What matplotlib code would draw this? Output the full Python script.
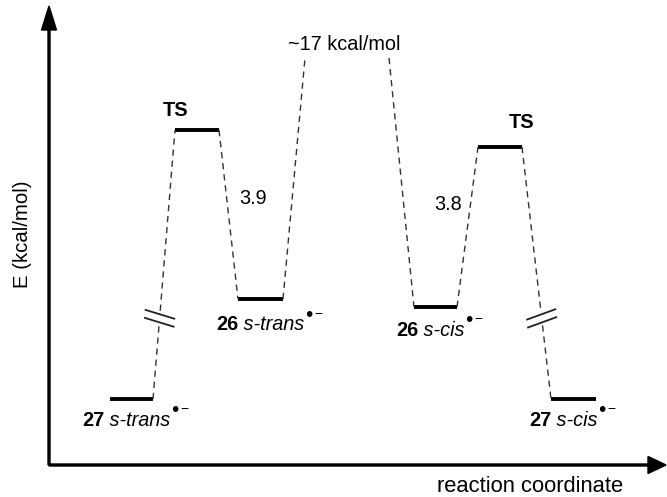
import numpy as np
import matplotlib.pyplot as plt

plt.rcParams['font.family'] = ['Liberation Sans', 'DejaVu Sans']

# energy levels (reaction coordinate ends, energy in arbitrary units)
level_ids = ["27", "TS", "26", "", "26", "TS", "27"]
level_confs = ["s-trans", "", "s-trans", "", "s-cis", "", "s-cis"]
x_left = [110, 175, 238, 305, 414, 478, 551]
x_right = [153, 219, 283, 389, 457, 522, 596]
energy = [66, 335, 166, 407, 158, 318, 66]
has_bar = [True, True, True, False, True, True, True]

barrier_labels = ["3.9", "3.8"]
peak_label = "~17 kcal/mol"

fig = plt.figure(figsize=(6.67, 4.97), dpi=100)
ax = fig.add_axes([0, 0, 1, 1])
ax.set_xlim(0, 667)
ax.set_ylim(-32, 465)
ax.axis('off')

# axes with arrow heads
ax.arrow(49, 0, 0, 459, width=2, head_width=15, head_length=24,
         length_includes_head=True, color='black')
ax.arrow(49, 0, 617, 0, width=2, head_width=17, head_length=18,
         length_includes_head=True, color='black')

# levels
for xl, xr, e, b in zip(x_left, x_right, energy, has_bar):
    if b:
        ax.plot([xl, xr], [e, e], color='black', lw=2.8, solid_capstyle='butt')


def break_mark(xc, yc, ux, uy, angle):
    a = np.deg2rad(angle)
    dx, dy = 15 * np.cos(a), 15 * np.sin(a)
    for s in (-1, 1):
        cx, cy = xc + s * 4 * ux, yc + s * 4 * uy
        ax.plot([cx - dx, cx + dx], [cy - dy, cy + dy], color='#222222', lw=1.3)


dash = dict(color='#333333', lw=1.0, linestyle=(0, (4.5, 3.5)))
# which connectors carry a break: (fraction along, angle of marks)
breaks = {0: (0.30, -17), 5: (0.68, 20)}
for i in range(len(energy) - 1):
    x0, y0 = x_right[i], energy[i]
    x1, y1 = x_left[i + 1], energy[i + 1]
    if i not in breaks:
        ax.plot([x0, x1], [y0, y1], **dash)
        continue
    t, ang = breaks[i]
    g = 0.028
    ax.plot([x0, x0 + (x1 - x0) * (t - g)], [y0, y0 + (y1 - y0) * (t - g)], **dash)
    ax.plot([x0 + (x1 - x0) * (t + g), x1], [y0 + (y1 - y0) * (t + g), y1], **dash)
    L = np.hypot(x1 - x0, y1 - y0)
    break_mark(x0 + (x1 - x0) * t, y0 + (y1 - y0) * t,
               (x1 - x0) / L, (y1 - y0) / L, ang)

# labels
fs = 14.3
ax.text(176, 355, "TS", fontsize=fs, fontweight='bold', ha='center', va='center')
ax.text(522, 343, "TS", fontsize=fs, fontweight='bold', ha='center', va='center')
ax.text(253, 266, barrier_labels[0], fontsize=fs, ha='center', va='center')
ax.text(448, 261, barrier_labels[1], fontsize=fs, ha='center', va='center')
ax.text(344, 421, peak_label, fontsize=fs, ha='center', va='center')


def species_label(x, y, num, conf):
    t1 = ax.text(x, y, num, fontsize=fs, fontweight='bold', ha='left', va='center')
    t2 = ax.annotate(" " + conf, xy=(1, 0), xycoords=t1, fontsize=fs,
                     style='italic', ha='left', va='bottom')
    ax.annotate("\u2022", xy=(1, 1), xycoords=t2, xytext=(0.3, 0),
                textcoords='offset points', fontsize=15, ha='left', va='center')
    ax.annotate("\u2212", xy=(1, 1), xycoords=t2, xytext=(7, 1),
                textcoords='offset points', fontsize=10, ha='left', va='center')


species_label(82, 45, level_ids[0], level_confs[0])
species_label(216, 140, level_ids[2], level_confs[2])
species_label(396, 135, level_ids[4], level_confs[4])
species_label(529, 45, level_ids[6], level_confs[6])

ax.text(23, 231, "E (kcal/mol)", fontsize=14.7, rotation=90, ha='center', va='center')
ax.text(530, -22, "reaction coordinate", fontsize=15.8, ha='center', va='center')

plt.savefig('out.png', dpi=100)
